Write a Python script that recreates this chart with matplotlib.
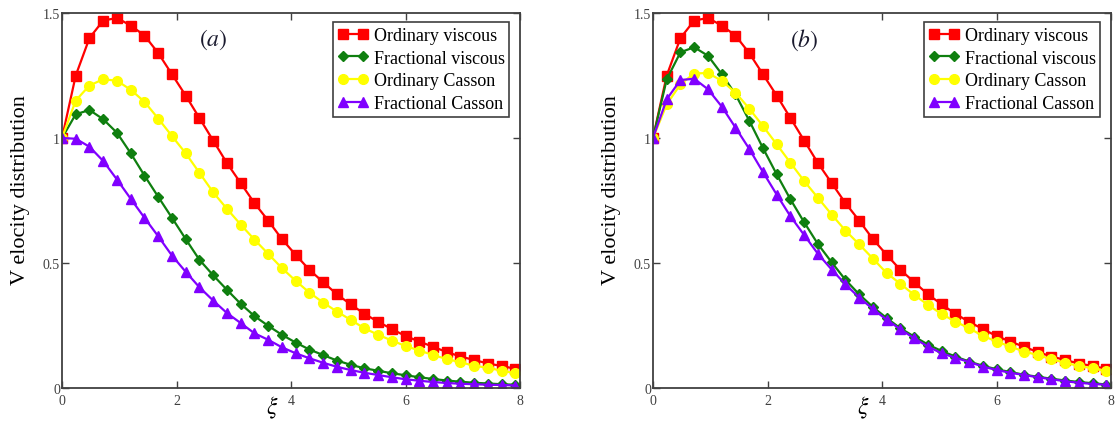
import numpy as np
import matplotlib
matplotlib.use("Agg")
import matplotlib.pyplot as plt

plt.rcParams['font.family'] = ['Liberation Serif', 'DejaVu Serif']
plt.rcParams['mathtext.fontset'] = 'stix'

# Similarity variable, sampled where the markers sit
xi = [0.0, 0.24, 0.48, 0.72, 0.96, 1.2, 1.44, 1.68, 1.92, 2.16, 2.4, 2.64,
      2.88, 3.12, 3.36, 3.6, 3.84, 4.08, 4.32, 4.56, 4.8, 5.04, 5.28, 5.52,
      5.76, 6.0, 6.24, 6.48, 6.72, 6.96, 7.2, 7.44, 7.68, 7.92]

# Ordinary viscous profile (same in both panels)
ord_viscous = [1.0, 1.25, 1.40, 1.47, 1.48, 1.45, 1.41, 1.34, 1.255, 1.17,
               1.08, 0.99, 0.90, 0.82, 0.74, 0.67, 0.596, 0.533, 0.473, 0.424,
               0.375, 0.335, 0.297, 0.265, 0.236, 0.208, 0.186, 0.165, 0.144,
               0.126, 0.112, 0.098, 0.088, 0.077]

# Panel (a)
frac_viscous_a = [1.0, 1.095, 1.112, 1.075, 1.021, 0.939, 0.850, 0.765, 0.681,
                  0.596, 0.513, 0.451, 0.393, 0.337, 0.288, 0.249, 0.213, 0.182,
                  0.154, 0.132, 0.11, 0.093, 0.079, 0.069, 0.059, 0.051, 0.043,
                  0.036, 0.03, 0.025, 0.021, 0.018, 0.015, 0.013]
ord_casson_a = [1.0, 1.15, 1.21, 1.235, 1.229, 1.193, 1.145, 1.078, 1.008, 0.939,
                0.861, 0.783, 0.717, 0.654, 0.594, 0.537, 0.480, 0.429, 0.382,
                0.342, 0.306, 0.273, 0.239, 0.213, 0.19, 0.168, 0.15, 0.132,
                0.116, 0.103, 0.089, 0.081, 0.069, 0.059]
frac_casson_a = [1.0, 0.997, 0.965, 0.908, 0.834, 0.757, 0.681, 0.607, 0.53,
                 0.465, 0.403, 0.35, 0.30, 0.26, 0.219, 0.193, 0.163, 0.139,
                 0.119, 0.101, 0.085, 0.072, 0.061, 0.052, 0.043, 0.035, 0.029,
                 0.024, 0.02, 0.017, 0.015, 0.013, 0.012, 0.01]

# Panel (b)
frac_viscous_b = [1.0, 1.235, 1.343, 1.363, 1.329, 1.256, 1.175, 1.07, 0.96,
                  0.855, 0.755, 0.663, 0.576, 0.503, 0.433, 0.375, 0.324, 0.28,
                  0.239, 0.206, 0.174, 0.148, 0.126, 0.106, 0.089, 0.075, 0.064,
                  0.053, 0.045, 0.037, 0.03, 0.024, 0.019, 0.014]
ord_casson_b = [1.0, 1.135, 1.215, 1.258, 1.26, 1.229, 1.182, 1.118, 1.048, 0.975,
                0.901, 0.828, 0.761, 0.694, 0.63, 0.575, 0.518, 0.46, 0.417,
                0.373, 0.333, 0.296, 0.266, 0.239, 0.209, 0.186, 0.166, 0.146,
                0.132, 0.115, 0.101, 0.088, 0.079, 0.068]
frac_casson_b = [1.0, 1.155, 1.232, 1.237, 1.195, 1.126, 1.042, 0.957, 0.864,
                 0.774, 0.687, 0.612, 0.537, 0.474, 0.415, 0.362, 0.316, 0.273,
                 0.235, 0.199, 0.166, 0.139, 0.121, 0.104, 0.086, 0.072, 0.061,
                 0.052, 0.043, 0.035, 0.027, 0.021, 0.016, 0.013]

labels = ["Ordinary viscous", "Fractional viscous", "Ordinary Casson", "Fractional Casson"]
colors = ["#ff0000", "#0f7f0f", "#ffff00", "#8000ff"]
markers = ["s", "D", "o", "^"]
marker_sizes = [7.0, 5.0, 7.0, 7.5]

axis_grey = "#404040"


def draw_panel(ax, curves, tag):
    """Plot the four velocity profiles on one axes and style it."""
    for y, lab, c, m, ms in zip(curves, labels, colors, markers, marker_sizes):
        ax.plot(xi, y, color=c, marker=m, markersize=ms, markeredgecolor=c,
                linewidth=1.6, label=lab)

    ax.set_xlim(0, 8)
    ax.set_ylim(0, 1.5)
    ax.set_xticks([0, 2, 4, 6, 8])
    ax.set_xticklabels(["0", "2", "4", "6", "8"])
    ax.set_yticks([0, 0.5, 1, 1.5])
    ax.set_yticklabels(["0", "0.5", "1", "1.5"])
    ax.tick_params(direction="in", length=5, width=1, colors=axis_grey,
                   labelsize=10, top=True, right=True)
    ax.tick_params(axis="x", pad=4)
    ax.tick_params(axis="y", pad=1.5)
    for spine in ax.spines.values():
        spine.set_color(axis_grey)
        spine.set_linewidth(1.3)

    ax.set_ylabel("V elocity distribution", fontsize=16)
    ax.yaxis.set_label_coords(-0.07, 0.53)
    ax.text(0.4585, -0.05, r"$\xi$", transform=ax.transAxes, fontsize=17,
            ha="center", va="center")
    ax.text(2.64, 1.395, f"$({tag})$", fontsize=17,
            ha="center", va="center", color="#1a1a2e")

    leg = ax.legend(loc="upper right", bbox_to_anchor=(0.977, 0.975),
                    fontsize=13, numpoints=2, handlelength=1.7,
                    handletextpad=0.3, labelspacing=0.32, borderpad=0.25,
                    borderaxespad=0, fancybox=False, framealpha=1)
    leg.get_frame().set_edgecolor(axis_grey)
    leg.get_frame().set_linewidth(1.2)


fig = plt.figure(figsize=(11.16, 4.35), dpi=100)
ax_a = fig.add_axes([62 / 1116, 46 / 435, 458 / 1116, 375 / 435])
ax_b = fig.add_axes([653 / 1116, 46 / 435, 458 / 1116, 375 / 435])

draw_panel(ax_a, [ord_viscous, frac_viscous_a, ord_casson_a, frac_casson_a], "a")
draw_panel(ax_b, [ord_viscous, frac_viscous_b, ord_casson_b, frac_casson_b], "b")

fig.savefig("out.png", dpi=100)
